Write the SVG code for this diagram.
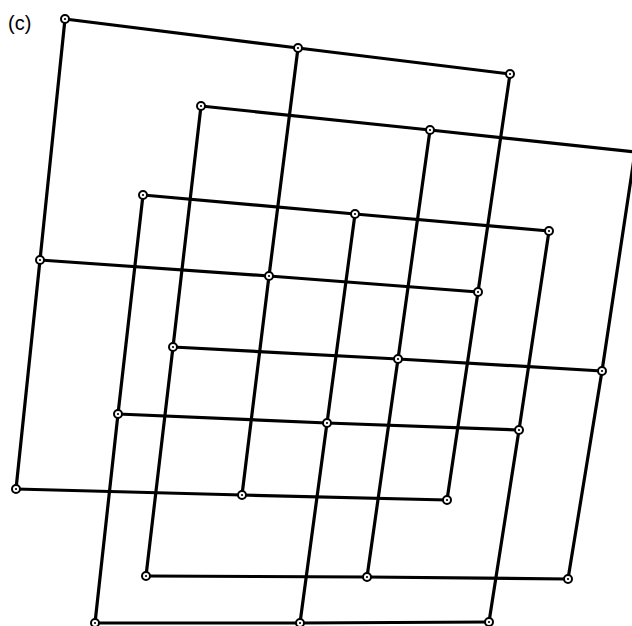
<svg xmlns="http://www.w3.org/2000/svg" width="632" height="626" viewBox="0 0 632 626">
<style>
.ln{stroke:#000;stroke-width:3.2;fill:none;stroke-linecap:round;stroke-linejoin:round}
.pt{fill:#fff;stroke:#000;stroke-width:2}
.dot{fill:#000}
text{font-family:"Liberation Sans",Arial,sans-serif;font-size:20px;fill:#000}
</style>
<defs>
<g id="p"><circle class="pt" r="4"/><circle class="dot" r="1.1"/></g>
</defs>
<rect width="632" height="626" fill="#fff"/>
<text x="8" y="30">(c)</text>
<g id="connectors">
<!-- square 1 -->
<polyline class="ln" points="65,19 298,48 510,74"/>
<polyline class="ln" points="40,260 269,276 478,292"/>
<polyline class="ln" points="16,489 242,495 447,500"/>
<polyline class="ln" points="65,19 40,260 16,489"/>
<polyline class="ln" points="298,48 269,276 242,495"/>
<polyline class="ln" points="510,74 478,292 447,500"/>
<!-- square 2 -->
<polyline class="ln" points="201,106 430,130 635,152"/>
<polyline class="ln" points="173,347 398,359 602,371"/>
<polyline class="ln" points="146,576 367,577 568,579"/>
<polyline class="ln" points="201,106 173,347 146,576"/>
<polyline class="ln" points="430,130 398,359 367,577"/>
<polyline class="ln" points="635,152 602,371 568,579"/>
<!-- square 3 -->
<polyline class="ln" points="143,195 355,214 549,231"/>
<polyline class="ln" points="118,414 327,423 519,430"/>
<polyline class="ln" points="95,623 300,623 489,622"/>
<polyline class="ln" points="143,195 118,414 95,623"/>
<polyline class="ln" points="355,214 327,423 300,623"/>
<polyline class="ln" points="549,231 519,430 489,622"/>
</g>
<g id="square1">
<use href="#p" x="65" y="19"/><use href="#p" x="298" y="48"/><use href="#p" x="510" y="74"/>
<use href="#p" x="40" y="260"/><use href="#p" x="269" y="276"/><use href="#p" x="478" y="292"/>
<use href="#p" x="16" y="489"/><use href="#p" x="242" y="495"/><use href="#p" x="447" y="500"/>
</g>
<g id="square2">
<use href="#p" x="201" y="106"/><use href="#p" x="430" y="130"/>
<use href="#p" x="173" y="347"/><use href="#p" x="398" y="359"/><use href="#p" x="602" y="371"/>
<use href="#p" x="146" y="576"/><use href="#p" x="367" y="577"/><use href="#p" x="568" y="579"/>
</g>
<g id="square3">
<use href="#p" x="143" y="195"/><use href="#p" x="355" y="214"/><use href="#p" x="549" y="231"/>
<use href="#p" x="118" y="414"/><use href="#p" x="327" y="423"/><use href="#p" x="519" y="430"/>
<use href="#p" x="95" y="623"/><use href="#p" x="300" y="623"/><use href="#p" x="489" y="622"/>
</g>
</svg>
